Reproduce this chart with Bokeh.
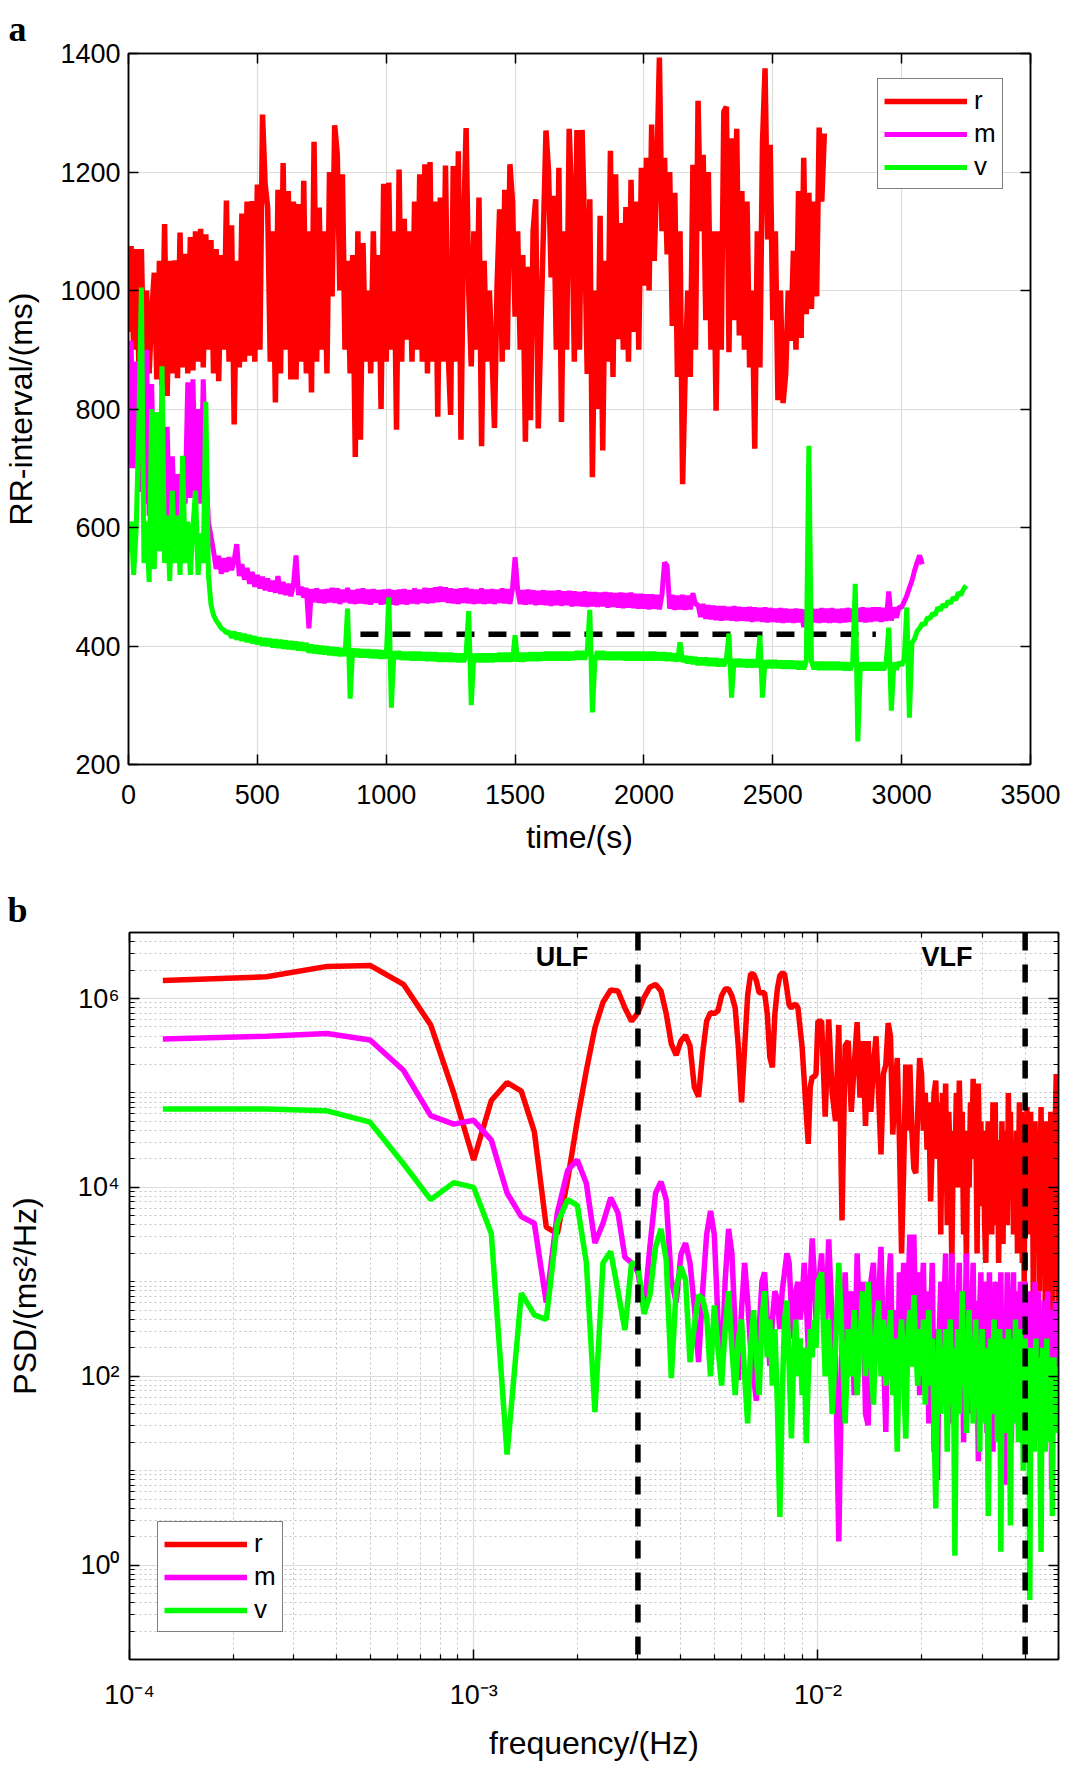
from bokeh.plotting import figure
from bokeh.models import (Range1d, LinearAxis, LogAxis, FixedTicker, Legend, LegendItem,
                          Label, Span, CustomJSTickFormatter)
from bokeh.embed import file_html
from bokeh.resources import INLINE

FONT = "Liberation Sans"
SERIF = "Liberation Serif"
C_R, C_M, C_V = "#ff0000", "#ff00ff", "#00ff00"
GRID = "#dcdcdc"

# ---------------- panel a data ----------------
time_ticks = [0, 500, 1000, 1500, 2000, 2500, 3000, 3500]
rr_ticks = [200, 400, 600, 800, 1000, 1200, 1400]

sample_dt = 10  # seconds between plotted RR samples

rr_r = [
    930, 1075, 900, 1070, 880, 1070, 845, 1000, 860, 960,
    1030, 850, 1050, 840, 1112, 822, 1050, 860, 1051, 852,
    1098, 870, 1062, 860, 1090, 865, 1100, 880, 1104, 870,
    1095, 900, 1085, 860, 1070, 847, 1060, 900, 1152, 880,
    1110, 774, 1050, 870, 1130, 880, 1150, 890, 1151, 880,
    1179, 900, 1297, 1180, 1140, 880, 1100, 811, 1170, 860,
    1215, 900, 1168, 850, 1150, 850, 1146, 880, 1185, 860,
    1100, 828, 1251, 880, 1140, 900, 1100, 860, 1200, 990,
    1279, 1230, 1000, 1196, 900, 1050, 860, 1060, 719, 1100,
    748, 1080, 880, 1000, 860, 1100, 880, 1060, 800, 1180,
    880, 1182, 900, 1100, 765, 1204, 880, 1121, 917, 1100,
    880, 1150, 900, 1196, 880, 1213, 860, 1217, 880, 1150,
    787, 1157, 880, 1211, 900, 790, 1210, 880, 1235, 748,
    1100, 1274, 1000, 872, 1100, 900, 1157, 737, 1050, 880,
    1000, 900, 768, 1006, 1137, 880, 1170, 900, 1213, 1150,
    956, 1100, 900, 1060, 745, 1040, 781, 1100, 1154, 767,
    935, 1100, 1270, 1200, 1022, 1160, 900, 1207, 778, 1100,
    900, 1273, 1150, 880, 1271, 900, 1271, 1100, 859, 1154,
    685, 1000, 800, 1126, 730, 1050, 880, 1236, 854, 1196,
    918, 1114, 900, 1141, 880, 1187, 930, 1150, 900, 1207,
    1008, 1224, 1000, 1280, 1050, 1200, 1393, 1100, 1224, 1061,
    1200, 940, 1165, 854, 1100, 673, 860, 1000, 854, 1212,
    900, 1320, 1100, 1229, 950, 1200, 900, 1100, 797, 1100,
    900, 1302, 1310, 896, 1257, 950, 1273, 924, 1168, 900,
    1150, 870, 1000, 733, 1100, 870, 1249, 1375, 1086, 1246,
    950, 1100, 815, 1000, 810, 859, 1000, 915, 1067, 900,
    1168, 920, 1224, 960, 1165, 969, 1150, 990, 1275, 1150,
    1265,
]

rr_m = [
    700, 915, 700, 880, 660, 800, 640, 900, 620, 842,
    600, 700, 580, 690, 600, 770, 590, 720, 610, 690,
    600, 700, 640, 845, 650, 850, 660, 800, 640, 850,
    700, 610, 585, 560, 530, 552, 522, 548, 525, 550,
    528, 545, 572, 518, 538, 512, 532, 505, 525, 500,
    520, 497, 517, 494, 514, 492, 510, 490, 518, 488,
    508, 486, 505, 484, 503, 553, 486, 500, 482, 498,
    430, 496, 474, 497, 473, 495, 472, 496, 474, 498,
    473, 497, 471, 495, 474, 498, 472, 494, 471, 496,
    472, 497, 471, 495, 470, 496, 473, 494, 470, 495,
    471, 496, 470, 494, 469, 495, 471, 496, 470, 494,
    472, 497, 471, 495, 473, 498, 472, 497, 473, 499,
    474, 500, 475, 499, 473, 497, 472, 496, 471, 497,
    473, 498, 472, 496, 471, 495, 472, 497, 471, 495,
    472, 496, 471, 495, 473, 497, 472, 496, 471, 497,
    550, 495, 471, 494, 470, 495, 471, 494, 469, 493,
    470, 494, 469, 493, 468, 493, 469, 494, 468, 492,
    469, 493, 467, 492, 468, 491, 467, 492, 466, 491,
    467, 491, 466, 490, 467, 491, 465, 490, 466, 489,
    465, 490, 464, 489, 465, 490, 464, 488, 463, 488,
    463, 487, 462, 487, 463, 486, 462, 487, 541, 535,
    463, 486, 461, 485, 462, 486, 461, 485, 462, 489,
    470, 470, 449, 471, 446, 469, 445, 468, 444, 467,
    443, 467, 444, 466, 443, 467, 442, 466, 443, 465,
    442, 466, 441, 465, 442, 464, 441, 465, 440, 464,
    441, 463, 440, 464, 439, 463, 440, 462, 439, 463,
    440, 462, 432, 461, 439, 463, 440, 462, 439, 464,
    440, 463, 439, 464, 440, 462, 439, 463, 440, 464,
    441, 463, 440, 464, 441, 465, 440, 464, 441, 465,
    442, 465, 441, 464, 442, 492, 443, 465, 448, 466,
    465, 475, 485, 498, 510, 527, 541, 553, 538,
]

rr_v = [
    560, 610, 520, 600, 775, 1005, 540, 610, 508, 800,
    530, 795, 560, 872, 540, 620, 510, 662, 540, 620,
    520, 721, 540, 610, 520, 600, 662, 520, 590, 540,
    812, 520, 470, 452, 443, 437, 430, 427, 422, 424,
    414, 424, 411, 422, 409, 420, 407, 418, 405, 416,
    403, 414, 401, 413, 400, 412, 398, 411, 397, 410,
    396, 409, 395, 408, 394, 407, 393, 406, 392, 405,
    389, 402, 388, 401, 387, 400, 386, 399, 385, 398,
    384, 397, 383, 396, 383, 463, 311, 396, 382, 395,
    381, 394, 381, 394, 380, 393, 380, 393, 379, 392,
    379, 482, 296, 391, 378, 391, 377, 390, 377, 390,
    376, 390, 376, 390, 376, 389, 375, 389, 375, 389,
    374, 388, 374, 388, 374, 388, 374, 387, 373, 387,
    373, 387, 459, 300, 387, 373, 387, 373, 387, 373,
    387, 373, 387, 374, 388, 374, 388, 374, 388, 374,
    418, 374, 388, 374, 388, 375, 389, 375, 389, 375,
    389, 376, 390, 376, 390, 376, 390, 376, 390, 376,
    390, 376, 390, 377, 391, 377, 391, 377, 391, 461,
    288, 377, 391, 377, 391, 377, 390, 377, 390, 377,
    390, 377, 390, 376, 390, 376, 390, 376, 390, 376,
    390, 376, 390, 376, 390, 376, 389, 376, 389, 375,
    388, 375, 387, 374, 406, 373, 383, 371, 382, 370,
    381, 368, 380, 368, 380, 367, 379, 367, 379, 366,
    378, 366, 378, 421, 313, 378, 365, 378, 365, 377,
    364, 377, 364, 377, 364, 418, 313, 376, 363, 376,
    363, 376, 363, 375, 362, 375, 362, 375, 362, 374,
    361, 374, 361, 374, 738, 374, 361, 373, 360, 373,
    360, 373, 360, 373, 360, 373, 360, 372, 359, 372,
    359, 372, 505, 239, 372, 359, 372, 359, 372, 359,
    372, 359, 372, 359, 372, 431, 291, 372, 360, 373,
    367, 378, 465, 279, 405, 412, 425, 430, 438, 436,
    448, 446, 455, 452, 465, 460, 470, 466, 476, 472,
    482, 478, 490, 486, 496, 502,
]

t_r = [sample_dt * i for i in range(len(rr_r))]
t_m = [sample_dt * i for i in range(len(rr_m))]
t_v = [sample_dt * i for i in range(len(rr_v))]

ref_t = [900, 2900]
ref_rr = [420, 420]

# ---------------- panel b data ----------------
df = 1.25e-4
psd_bins = list(range(1, 81)) + list(range(82, 401, 2))
freq = [k * df for k in psd_bins]

# log10 of PSD
psd_r_log10 = [
    6.19, 6.23, 6.34, 6.35, 6.15, 5.72, 5.0, 4.29, 4.92, 5.11,
    5.02, 4.59, 3.58, 3.51, 4.08, 4.71, 5.24, 5.69, 5.96, 6.09,
    6.08, 5.9, 5.76, 5.85, 6.01, 6.12, 6.15, 6.08, 5.84, 5.52,
    5.4, 5.55, 5.61, 5.5, 5.06, 4.96, 5.42, 5.76, 5.85, 5.84,
    5.87, 6.03, 6.1, 6.1, 6.03, 5.9, 5.48, 4.9, 5.48, 6.03,
    6.26, 6.26, 6.19, 6.06, 6.06, 6.06, 5.84, 5.38, 5.27, 5.84,
    6.1, 6.24, 6.27, 6.26, 6.1, 5.93, 5.9, 5.93, 5.94, 5.9,
    5.69, 5.48, 5.13, 4.78, 4.46, 5.06, 5.17, 5.17, 5.2, 5.76,
    5.76, 4.75, 5.78, 5.0, 4.7, 5.72, 3.65, 5.5, 5.55, 4.8,
    5.3, 5.75, 4.95, 5.55, 4.65, 5.55, 4.8, 5.3, 5.6, 5.0,
    4.35, 5.2, 5.3, 5.74, 5.6, 4.56, 5.0, 5.37, 4.5, 3.3,
    4.2, 5.3, 4.6, 5.3, 4.6, 4.2, 4.15, 4.8, 5.37, 5.2,
    4.6, 5.0, 4.4, 4.9, 3.85, 4.5, 5.0, 5.13, 4.3, 4.9,
    3.5, 5.0, 4.4, 5.1, 3.6, 4.8, 4.2, 3.2, 4.6, 4.2,
    5.0, 4.0, 5.13, 4.4, 4.8, 3.5, 4.4, 3.2, 4.6, 4.0,
    4.9, 4.4, 5.15, 4.3, 4.8, 3.3, 5.1, 4.2, 4.7, 3.8,
    4.6, 3.6, 3.2, 4.3, 4.7, 4.0, 4.6, 3.5, 4.9, 4.3,
    4.9, 3.6, 4.5, 3.2, 4.4, 3.8, 4.7, 3.4, 4.5, 4.0,
    4.6, 3.6, 5.0, 4.3, 4.8, 3.9, 4.4, 3.5, 4.5, 3.9,
    4.6, 3.3, 4.2, 4.9, 4.3, 4.8, 3.2, 4.4, 3.0, 4.7,
    4.0, 4.85, 3.5, 4.6, 4.2, 4.8, 3.6, 4.4, 2.8, 4.2,
    4.7, 3.3, 4.5, 3.9, 4.6, 2.9, 4.3, 4.85, 3.5, 4.7,
    4.0, 4.3, 2.7, 4.2, 4.7, 3.3, 4.4, 2.6, 3.8, 4.8,
    4.2, 2.5, 4.3, 4.5, 3.0, 4.8, 5.2, 4.0, 3.2, 2.75,
]
psd_m_log10 = [
    5.57, 5.6, 5.63, 5.56, 5.24, 4.76, 4.67, 4.71, 4.5, 3.94,
    3.69, 3.62, 2.78, 3.73, 4.18, 4.29, 4.04, 3.41, 3.62, 3.89,
    3.73, 3.26, 3.2, 3.1, 2.7, 3.37, 3.94, 4.06, 3.87, 3.02,
    2.78, 3.29, 3.41, 3.2, 2.74, 2.15, 2.9, 3.5, 3.75, 3.5,
    2.6, 2.0, 3.0, 3.56, 3.3, 2.5, 1.96, 2.7, 3.2, 2.8,
    2.3, 2.0, 1.74, 2.5, 3.0, 3.1, 2.6, 2.11, 2.6, 2.9,
    2.8, 2.5, 2.9, 3.1, 3.3, 3.2, 2.7, 2.4, 2.9, 3.0,
    2.6, 2.8, 3.2, 2.8, 2.3, 3.0, 3.46, 3.1, 2.6, 2.9,
    3.3, 2.4, 3.45, 2.6, 2.2, 0.25, 2.3, 3.1, 2.1, 2.9,
    1.8, 3.3, 2.4, 3.0, 1.6, 1.48, 3.0, 3.2, 2.2, 2.8,
    3.37, 2.3, 1.41, 2.9, 3.3, 2.0, 2.7, 1.7, 3.1, 2.5,
    3.2, 1.9, 2.8, 3.5, 2.2, 3.5, 2.4, 3.1, 1.8, 2.8,
    3.2, 2.0, 2.9, 1.5, 2.6, 3.2, 1.2, 2.5, 0.9, 2.4,
    3.0, 1.7, 2.8, 3.3, 2.0, 2.8, 1.5, 3.3, 2.2, 2.9,
    1.6, 2.7, 3.2, 1.9, 2.8, 1.3, 2.5, 3.3, 2.1, 2.9,
    1.6, 2.7, 3.2, 1.9, 2.8, 2.2, 1.1, 2.7, 3.1, 1.8,
    2.8, 2.1, 3.0, 1.4, 2.5, 3.1, 1.9, 2.7, 1.2, 2.4,
    3.0, 2.0, 2.8, 1.6, 2.5, 3.1, 1.7, 2.7, 2.1, 0.85,
    2.4, 3.1, 1.9, 2.8, 2.2, 1.3, 2.7, 3.1, 1.8, 2.5,
    2.0, 2.9, 1.5, 2.5, 3.0, 2.0, 2.8, 1.6, 2.4, 3.0,
    1.9, 2.7, 2.1, 2.9, 1.4, 2.5, 2.0, 2.8, 1.7, 2.4,
    3.0, 1.9, 2.5, 2.2, 2.9, 1.6, 2.4, 2.0, 2.7, 1.5,
    2.3, 2.8, 1.8, 2.5, 2.0, 2.9, 1.6, 2.4, 1.9, 2.7,
    0.8, 2.3, 1.8, 2.6, 2.0, 2.8, 1.7, 2.4, 2.0, 2.5,
]
psd_v_log10 = [
    4.83, 4.83, 4.81, 4.69, 4.25, 3.87, 4.05, 4.0, 3.51, 1.17,
    2.88, 2.65, 2.6, 3.62, 3.87, 3.81, 3.2, 1.62, 3.2, 3.32,
    2.9, 2.49, 3.2, 3.18, 2.66, 2.86, 3.37, 3.56, 3.23, 1.98,
    2.93, 3.16, 3.02, 2.15, 2.53, 2.86, 2.82, 2.64, 2.0, 2.75,
    2.3, 1.9, 2.5, 2.9, 2.3, 1.8, 2.4, 2.6, 2.0, 1.5,
    2.3, 2.7, 2.2, 1.8, 2.6, 2.9, 2.2, 2.6, 1.9, 2.5,
    1.7, 0.51, 1.8, 2.6, 2.8, 2.1, 1.34, 2.2, 2.6, 2.0,
    2.4, 1.8, 2.3, 1.29, 2.0, 2.5, 2.2, 2.6, 2.3, 3.0,
    3.1, 2.0, 2.6, 1.6, 2.3, 3.2, 2.4, 1.5, 2.5, 2.0,
    2.7, 1.8, 2.4, 2.9, 2.0, 3.0, 2.2, 1.7, 2.5, 2.8,
    2.0, 2.6, 1.9, 2.3, 2.7, 1.8, 2.4, 1.2, 2.3, 2.6,
    2.0, 1.34, 2.4, 2.7, 2.1, 2.86, 2.3, 1.9, 2.5, 2.0,
    2.6, 1.7, 2.3, 2.7, 1.9, 2.4, 1.5, 0.6, 2.0, 2.5,
    1.6, 2.3, 1.8, 2.5, 1.2, 2.2, 2.6, 1.7, 2.3, 0.1,
    2.0, 2.5, 1.6, 2.2, 2.9, 1.9, 2.4, 1.4, 2.2, 2.7,
    1.8, 2.3, 1.5, 2.1, 2.6, 1.7, 2.3, 1.2, 2.0, 2.5,
    1.8, 2.3, 1.5, 2.2, 0.52, 1.9, 2.4, 1.6, 2.2, 2.6,
    1.7, 2.3, 1.3, 2.1, 2.5, 0.14, 1.9, 2.4, 1.6, 2.2,
    1.4, 2.0, 2.5, 1.7, 0.42, 1.9, 2.4, 1.5, 2.1, 2.6,
    1.8, 2.2, 1.3, 2.0, 2.5, 1.6, 2.2, 1.0, 1.9, 2.4,
    1.5, 2.1, 1.7, 2.3, -0.37, 1.5, 2.1, 1.6, 2.3, 1.2,
    1.9, 2.4, 1.4, 2.0, 1.7, 2.2, 0.9, 0.14, 1.8, 2.3,
    1.5, 2.0, 1.2, 1.9, 2.4, 1.6, 2.1, 1.3, 1.8, 2.2,
    1.5, 0.52, 1.7, 2.2, 1.4, 2.0, 1.6, 2.1, 1.4, 1.9,
]
band_edges = [0.003, 0.04]
freq_major = [1e-4, 1e-3, 1e-2]
psd_major = [1e0, 1e2, 1e4, 1e6]

for arr in (psd_r_log10, psd_m_log10, psd_v_log10):
    assert len(arr) == len(freq), (len(arr), len(freq))

psd_r = [10.0 ** v for v in psd_r_log10]
psd_m = [10.0 ** v for v in psd_m_log10]
psd_v = [10.0 ** v for v in psd_v_log10]

freq_minor = [m * 10.0 ** e for e in (-4, -3, -2) for m in range(2, 10) if m * 10.0 ** e <= 0.0501]
psd_minor = [m * 10.0 ** e for e in range(-1, 7) for m in range(1, 10)
             if not (m == 1 and e in (0, 2, 4, 6)) and m * 10.0 ** e <= 5.01e6]

SUP_JS = """
const e = Math.round(Math.log10(tick));
const sup = {"-": "\\u207b", "0": "\\u2070", "1": "\\u00b9", "2": "\\u00b2", "3": "\\u00b3",
             "4": "\\u2074", "5": "\\u2075", "6": "\\u2076", "7": "\\u2077", "8": "\\u2078", "9": "\\u2079"};
return "10" + String(e).split("").map(c => sup[c]).join("");
"""


def style_axis(ax, ticker, show_labels, formatter=None):
    ax.ticker = ticker
    ax.axis_line_color = "black"
    ax.axis_line_width = 1.5
    ax.major_tick_line_color = "black"
    ax.major_tick_line_width = 1.5
    ax.minor_tick_line_color = "black"
    ax.minor_tick_line_width = 1.2
    ax.major_tick_in = 10
    ax.major_tick_out = 0
    ax.minor_tick_in = 5
    ax.minor_tick_out = 0
    ax.axis_label_text_font = FONT
    ax.axis_label_text_font_size = "32px"
    ax.axis_label_text_font_style = "normal"
    ax.axis_label_text_color = "black"
    if show_labels:
        ax.major_label_text_font = FONT
        ax.major_label_text_font_size = "27px"
        ax.major_label_text_color = "black"
        if formatter is not None:
            ax.formatter = formatter
    else:
        ax.formatter = CustomJSTickFormatter(code="return ''")
        ax.major_label_text_font_size = "1px"
        ax.major_label_standoff = 0
        ax.axis_label_standoff = 0


def style_legend(leg):
    leg.border_line_color = "black"
    leg.border_line_width = 1.5
    leg.background_fill_color = "white"
    leg.background_fill_alpha = 1.0
    leg.padding = 6
    leg.spacing = 2
    leg.margin = 0
    leg.glyph_width = 83
    leg.glyph_height = 28
    leg.label_height = 28
    leg.label_standoff = 7
    leg.label_text_font = FONT
    leg.label_text_font_size = "26px"
    leg.label_text_color = "black"


def panel_letter(p, letter, offset, standoff):
    p.title.text = letter
    p.title.align = "left"
    p.title.offset = offset
    p.title.standoff = standoff
    p.title.text_font = SERIF
    p.title.text_font_style = "bold"
    p.title.text_font_size = "36px"
    p.title.text_color = "black"


# ---------------- panel a ----------------
pa = figure(width=1065, height=878, x_range=Range1d(0, 3500), y_range=Range1d(200, 1400),
            output_backend="svg", toolbar_location=None,
            min_border_left=127, min_border_right=35, min_border_top=53, min_border_bottom=114,
            background_fill_color="white", border_fill_color="white")
pa.outline_line_color = "black"
pa.outline_line_width = 1.5
panel_letter(pa, "a", -120, 9)
xt_a = FixedTicker(ticks=time_ticks)
yt_a = FixedTicker(ticks=rr_ticks)
ax_b = pa.below[0]
ax_l = pa.left[0]
style_axis(ax_b, xt_a, True)
style_axis(ax_l, yt_a, True)
ax_b.axis_label = "time/(s)"
ax_b.major_label_standoff = 20
ax_b.axis_label_standoff = 12
ax_l.axis_label = "RR-interval/(ms)"
ax_l.major_label_standoff = 8
ax_l.axis_label_standoff = 18
ax_t = LinearAxis()
style_axis(ax_t, xt_a, False)
pa.add_layout(ax_t, "above")
ax_r = LinearAxis()
style_axis(ax_r, yt_a, False)
pa.add_layout(ax_r, "right")
for g, t in ((pa.xgrid[0], xt_a), (pa.ygrid[0], yt_a)):
    g.ticker = t
    g.grid_line_color = GRID
    g.grid_line_width = 1.2

lr = pa.line(t_r, rr_r, line_color=C_R, line_width=5.5)
lm = pa.line(t_m, rr_m, line_color=C_M, line_width=5)
pa.line(ref_t, ref_rr, line_color="black", line_width=5.5, line_dash="18 14")
lv = pa.line(t_v, rr_v, line_color=C_V, line_width=5)

leg_a = Legend(items=[LegendItem(label="r", renderers=[lr]),
                      LegendItem(label="m", renderers=[lm]),
                      LegendItem(label="v", renderers=[lv])],
               location=(749, 575))
style_legend(leg_a)
pa.add_layout(leg_a)

# ---------------- panel b ----------------
pb = figure(width=1065, height=886, x_axis_type="log", y_axis_type="log",
            x_range=Range1d(1e-4, 0.05), y_range=Range1d(0.1, 5e6),
            output_backend="svg", toolbar_location=None,
            min_border_left=129, min_border_right=7, min_border_top=54, min_border_bottom=105,
            background_fill_color="white", border_fill_color="white")
pb.outline_line_color = "black"
pb.outline_line_width = 1.5
panel_letter(pb, "b", -122, 6)
xt_b = FixedTicker(ticks=freq_major, minor_ticks=freq_minor)
yt_b = FixedTicker(ticks=psd_major, minor_ticks=psd_minor)
bx = pb.below[0]
by = pb.left[0]
style_axis(bx, xt_b, True, CustomJSTickFormatter(code=SUP_JS))
style_axis(by, yt_b, True, CustomJSTickFormatter(code=SUP_JS))
bx.axis_label = "frequency/(Hz)"
bx.major_label_standoff = 20
bx.axis_label_standoff = 12
by.axis_label = "PSD/(ms\u00b2/Hz)"
by.major_label_standoff = 10
by.axis_label_standoff = 32
bt = LogAxis()
style_axis(bt, xt_b, False)
pb.add_layout(bt, "above")
br = LogAxis()
style_axis(br, yt_b, False)
pb.add_layout(br, "right")
for g, t in ((pb.xgrid[0], xt_b), (pb.ygrid[0], yt_b)):
    g.ticker = t
    g.grid_line_color = GRID
    g.grid_line_width = 1.2
    g.minor_grid_line_color = "#c4c4c4"
    g.minor_grid_line_width = 1
    g.minor_grid_line_dash = "2 3"

pr = pb.line(freq, psd_r, line_color=C_R, line_width=5.5)
pm = pb.line(freq, psd_m, line_color=C_M, line_width=5.5)
pv = pb.line(freq, psd_v, line_color=C_V, line_width=5.5)
for edge in band_edges:
    pb.add_layout(Span(location=edge, dimension="height", line_color="black",
                       line_width=5.5, line_dash="18 14"))
pb.add_layout(Label(x=1.514e-3, y=2.75e6, text="ULF", text_font=FONT, text_font_style="bold",
                    text_font_size="27px", text_align="left", text_baseline="alphabetic",
                    text_color="black"))
pb.add_layout(Label(x=2.0e-2, y=2.75e6, text="VLF", text_font=FONT, text_font_style="bold",
                    text_font_size="27px", text_align="left", text_baseline="alphabetic",
                    text_color="black"))
leg_b = Legend(items=[LegendItem(label="r", renderers=[pr]),
                      LegendItem(label="m", renderers=[pm]),
                      LegendItem(label="v", renderers=[pv])],
               location=(28, 27))
style_legend(leg_b)
pb.add_layout(leg_b)

open("out.html", "w", encoding="utf-8").write(
    file_html([pa, pb], INLINE, title="RR intervals and PSD"))
